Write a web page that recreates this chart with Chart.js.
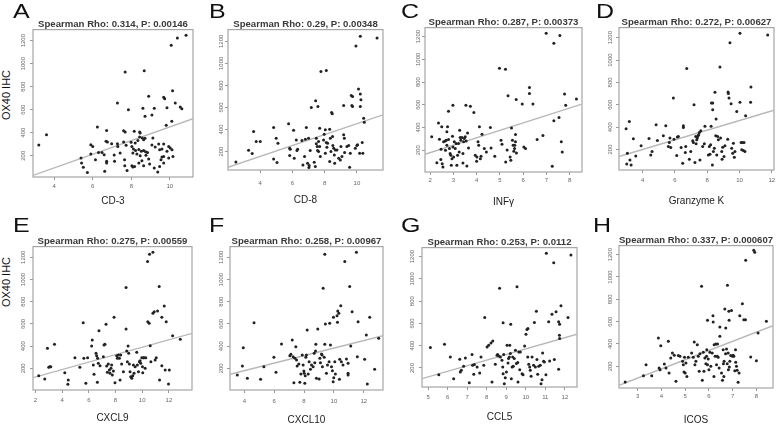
<!DOCTYPE html>
<html>
<head>
<meta charset="utf-8">
<script src="https://cdn.jsdelivr.net/npm/chart.js@4.4.1/dist/chart.umd.min.js"></script>
<style>
  body { margin: 0; background: #fff; width: 778px; height: 425px; overflow: hidden; position: relative;
         font-family: "Liberation Sans", Arial, Helvetica, sans-serif; }
  canvas { position: absolute; }
  .letter { position: absolute; font-size: 20px; line-height: 20px; color: #111;
            transform: scaleX(1.25); transform-origin: left top; }
  .ylab { position: absolute; font-size: 11px; line-height: 11px; color: #111; white-space: nowrap;
          transform: translate(-50%, -50%) rotate(-90deg); }
</style>
</head>
<body>
<div class="ylab" style="left:6px; top:95px;">OX40 IHC</div>
<div class="ylab" style="left:6px; top:282px;">OX40 IHC</div>
<script>
// values: [expression, OX40 IHC]
const cd3 = [[3.2,293],[3.6,383],[10.84,1246],[10.39,1223],[10.07,1159],[7.68,928],[8.67,939],[8.9,716],[9.68,707],[9.73,696],[10.14,765],[10.28,658],[10.54,623],[10.62,609],[7.28,658],[7.85,600],[8.6,612],[9.19,612],[9.07,554],[8.71,542],[9.85,617],[10.1,499],[9.81,464],[6.24,449],[6.72,420],[7.6,417],[7.68,406],[8.15,412],[8.43,406],[8.46,397],[9.12,354],[5.9,296],[6.0,281],[6.3,229],[6.48,229],[6.69,325],[6.76,319],[6.98,304],[7.28,304],[7.6,319],[7.73,290],[7.99,316],[8.03,281],[8.2,310],[8.34,333],[8.43,362],[8.57,354],[8.64,339],[8.71,351],[8.11,258],[8.22,246],[8.39,255],[8.52,238],[8.64,246],[8.74,235],[8.84,229],[8.08,223],[8.29,214],[8.46,200],[8.76,203],[9.07,293],[9.24,275],[9.42,301],[9.68,301],[9.47,252],[9.59,258],[9.94,281],[10.02,267],[10.11,252],[9.85,238],[9.68,194],[9.59,188],[9.54,165],[10.16,194],[9.94,180],[5.39,180],[5.42,136],[5.51,99],[5.72,55],[5.9,214],[6.14,165],[6.59,209],[6.72,151],[6.72,136],[6.62,64],[7.11,206],[7.13,151],[7.65,165],[7.66,113],[7.78,72],[8.03,113],[8.08,101],[8.17,107],[8.39,136],[8.55,157],[8.64,113],[8.9,171],[8.95,128],[9.19,93],[9.37,58],[9.47,107],[9.68,136],[7.42,223],[7.3,281]];
const cd8 = [[2.49,106],[3.28,212],[3.5,182],[3.59,382],[3.75,291],[4.0,291],[4.83,418],[4.83,133],[4.99,321],[5.1,276],[5.04,100],[5.76,452],[5.83,230],[5.86,221],[5.83,164],[6.07,394],[6.11,139],[6.28,209],[6.32,221],[6.24,306],[6.59,300],[6.75,155],[6.8,312],[6.86,418],[7.0,321],[6.94,94],[7.04,73],[7.02,55],[6.65,79],[7.1,209],[7.17,600],[7.35,103],[7.44,661],[7.58,609],[7.42,64],[7.48,321],[7.48,270],[7.54,245],[7.62,291],[7.56,209],[7.62,200],[7.69,412],[7.77,927],[8.1,936],[7.69,245],[7.73,155],[7.93,306],[7.97,358],[8.04,397],[8.04,185],[8.1,282],[8.14,239],[8.18,276],[8.31,403],[8.31,109],[8.35,321],[8.39,200],[8.43,555],[8.47,542],[8.49,336],[8.51,255],[8.56,230],[8.6,170],[8.62,94],[8.66,215],[8.76,215],[8.87,139],[8.97,124],[9.01,245],[9.07,155],[9.18,618],[9.18,352],[9.22,321],[9.24,191],[9.38,245],[9.49,255],[9.59,185],[9.55,58],[9.69,618],[9.73,609],[9.65,709],[9.73,700],[9.94,1158],[10.21,1245],[11.25,1230],[10.1,767],[10.21,721],[10.25,670],[10.21,609],[10.0,255],[10.04,261],[10.17,185],[10.33,282],[10.37,185],[10.42,503],[10.46,467],[9.9,230]];
const infg = [[2.07,318],[2.29,91],[2.36,441],[2.4,297],[2.46,118],[2.47,209],[2.5,406],[2.52,82],[2.55,53],[2.58,274],[2.65,282],[2.69,288],[2.66,200],[2.72,362],[2.72,244],[2.75,406],[2.79,294],[2.79,544],[2.83,215],[2.86,171],[2.89,156],[2.91,68],[2.94,126],[2.96,324],[2.98,597],[2.98,229],[3.01,141],[3.04,274],[3.08,215],[3.12,259],[3.15,68],[3.18,156],[3.22,259],[3.25,185],[3.27,376],[3.29,312],[3.32,288],[3.37,312],[3.41,88],[3.41,171],[3.44,274],[3.47,303],[3.51,318],[3.55,282],[3.58,62],[3.54,597],[3.73,588],[3.61,353],[3.65,221],[3.88,532],[3.94,156],[4.0,103],[4.01,141],[4.06,274],[4.09,244],[4.12,406],[4.16,126],[4.19,147],[4.23,341],[4.33,215],[4.42,185],[4.59,400],[4.62,221],[4.78,147],[4.98,921],[5.24,912],[5.05,288],[5.09,253],[5.25,97],[5.31,203],[5.35,679],[5.44,141],[5.47,112],[5.5,397],[5.54,288],[5.57,244],[5.6,191],[5.63,215],[5.64,244],[5.67,338],[5.71,176],[5.7,647],[5.96,606],[6.03,229],[6.1,215],[6.27,753],[6.27,700],[6.42,606],[6.6,294],[6.85,329],[6.99,1229],[7.32,1141],[7.58,1209],[7.25,59],[7.32,459],[7.54,488],[7.64,274],[7.68,185],[7.78,694],[7.83,597],[8.29,650],[5.67,274]];
const gzmk = [[2.97,386],[3.01,71],[3.05,167],[3.17,451],[3.21,107],[3.28,62],[3.42,296],[3.57,143],[3.9,233],[4.39,299],[4.5,152],[4.58,182],[4.83,422],[4.91,281],[5.28,323],[5.43,413],[5.59,227],[5.65,263],[5.69,302],[5.74,218],[5.9,661],[5.94,293],[6.11,146],[6.15,311],[6.21,317],[6.38,218],[6.48,77],[6.52,413],[6.52,398],[6.64,173],[6.67,227],[6.73,925],[6.89,113],[6.98,182],[7.1,278],[7.14,263],[7.18,601],[7.24,83],[7.29,317],[7.31,251],[7.35,287],[7.39,302],[7.43,323],[7.47,332],[7.51,353],[7.55,107],[7.6,368],[7.72,227],[7.82,251],[7.86,407],[8.07,152],[8.13,227],[8.17,158],[8.21,242],[8.24,407],[8.26,616],[8.34,616],[8.34,556],[8.32,62],[8.38,182],[8.44,212],[8.48,712],[8.55,472],[8.53,323],[8.59,152],[8.65,317],[8.69,287],[8.79,937],[8.83,302],[8.9,182],[8.92,113],[8.96,221],[9.04,137],[9.1,233],[9.27,293],[9.29,715],[9.31,700],[9.35,661],[9.41,1155],[9.48,610],[9.52,212],[9.58,167],[9.62,257],[9.72,182],[9.83,541],[10.03,1239],[10.03,622],[10.1,263],[10.14,197],[10.18,263],[10.24,191],[10.28,263],[10.34,182],[10.38,502],[10.71,760],[10.69,622],[11.75,1224],[9.68,131]];
const cxcl9 = [[2.25,134],[2.7,104],[2.9,380],[3.0,209],[3.08,215],[3.15,215],[3.43,416],[4.2,161],[4.46,95],[4.43,56],[4.96,296],[5.33,209],[5.58,611],[5.63,290],[5.78,65],[5.91,296],[6.21,401],[6.26,455],[6.34,230],[6.39,146],[6.54,335],[6.59,314],[6.66,290],[6.71,245],[6.64,74],[6.76,539],[6.84,224],[7.09,305],[7.14,410],[7.21,416],[7.29,596],[7.34,221],[7.39,164],[7.46,239],[7.54,185],[7.59,155],[7.66,200],[7.71,230],[7.76,140],[7.84,176],[7.89,659],[7.96,71],[8.09,314],[8.14,290],[8.22,320],[8.29,290],[8.39,320],[8.34,95],[8.46,239],[8.59,170],[8.79,927],[8.79,554],[8.84,356],[8.89,260],[8.94,401],[8.99,335],[9.04,239],[9.09,170],[9.14,125],[9.22,110],[9.29,134],[9.34,230],[9.39,155],[9.47,215],[9.59,344],[9.64,230],[9.72,170],[9.79,260],[9.84,269],[9.89,245],[9.97,296],[10.02,215],[10.04,161],[10.09,296],[10.14,296],[10.22,200],[10.27,296],[10.4,1161],[10.55,1227],[10.8,1245],[10.42,620],[10.52,605],[10.6,404],[10.65,260],[10.8,695],[10.9,710],[10.97,275],[11.05,296],[11.15,716],[11.27,936],[11.3,95],[11.47,224],[11.47,659],[11.65,762],[11.72,185],[11.8,620],[11.97,59],[12.03,185],[12.28,494],[12.85,461]];
const cxcl10 = [[3.53,140],[3.87,221],[3.93,386],[4.2,110],[4.65,611],[5.09,101],[5.31,215],[5.98,299],[6.12,164],[6.49,419],[7.05,314],[7.12,326],[7.21,455],[7.27,305],[7.32,71],[7.39,290],[7.45,395],[7.5,275],[7.54,221],[7.65,239],[7.72,74],[7.79,149],[7.88,320],[7.94,230],[7.99,176],[8.01,155],[8.05,65],[8.08,134],[8.12,299],[8.16,320],[8.21,545],[8.28,149],[8.34,260],[8.43,191],[8.5,230],[8.61,215],[8.68,335],[8.72,251],[8.77,356],[8.79,416],[8.83,110],[8.92,554],[9.01,104],[9.06,290],[9.1,251],[9.17,329],[9.21,320],[9.23,215],[9.28,921],[9.35,299],[9.39,1227],[9.39,416],[9.43,599],[9.5,155],[9.57,230],[9.68,260],[9.72,605],[9.77,410],[9.84,215],[9.9,179],[9.95,80],[9.97,659],[9.99,116],[10.06,260],[10.1,149],[10.21,674],[10.24,614],[10.26,716],[10.33,695],[10.37,101],[10.39,281],[10.46,764],[10.5,260],[10.61,230],[10.73,1161],[10.84,284],[10.95,155],[10.95,140],[10.95,245],[11.06,936],[11.13,401],[11.22,710],[11.51,1245],[11.57,305],[11.62,620],[12.06,281],[12.17,500],[12.24,59],[12.4,659],[12.73,191],[13.0,470]];
const ccl5 = [[5.12,383],[5.55,140],[5.84,413],[6.14,299],[6.31,104],[6.62,278],[6.65,164],[6.7,179],[6.82,215],[6.91,290],[7.11,68],[7.25,320],[7.28,224],[7.34,143],[7.37,230],[7.51,209],[7.64,155],[7.71,299],[7.85,224],[7.9,653],[8.02,389],[8.1,404],[8.22,425],[8.31,443],[8.27,74],[8.44,233],[8.53,314],[8.56,320],[8.61,308],[8.66,915],[8.7,299],[8.78,269],[8.82,209],[8.84,149],[8.84,605],[8.87,320],[8.9,59],[8.95,113],[9.01,164],[9.04,404],[9.09,245],[9.12,284],[9.16,299],[9.18,404],[9.21,329],[9.23,593],[9.26,104],[9.3,209],[9.33,299],[9.36,215],[9.41,284],[9.47,359],[9.52,239],[9.55,930],[9.59,248],[9.6,74],[9.64,344],[9.69,185],[9.72,344],[9.81,149],[9.86,140],[9.94,398],[10.01,503],[10.06,545],[10.11,554],[10.1,299],[10.15,233],[10.2,209],[10.23,179],[10.27,125],[10.32,299],[10.4,224],[10.44,608],[10.49,209],[10.54,710],[10.57,275],[10.61,143],[10.66,215],[10.74,224],[10.78,59],[10.83,95],[10.86,335],[10.91,260],[10.95,254],[11.03,140],[11.05,1230],[11.17,614],[11.22,263],[11.34,683],[11.43,1146],[11.46,275],[11.55,704],[11.68,188],[11.68,614],[11.73,593],[11.72,494],[11.73,464],[11.8,758],[12.16,653],[12.31,1215]];
const icos = [[2.47,60],[3.24,116],[3.35,215],[3.59,116],[3.87,454],[3.9,185],[3.94,170],[3.97,385],[4.12,221],[4.19,185],[4.29,424],[4.32,140],[4.39,275],[4.46,319],[4.54,299],[4.61,66],[4.71,296],[4.78,290],[4.89,245],[4.92,215],[4.95,149],[4.97,281],[5.0,140],[5.03,230],[5.07,110],[5.13,281],[5.27,319],[5.34,281],[5.38,418],[5.41,215],[5.45,245],[5.51,394],[5.55,290],[5.59,155],[5.62,313],[5.69,916],[5.72,75],[5.76,325],[5.79,155],[5.83,275],[5.87,224],[5.9,290],[5.91,349],[5.94,612],[5.94,215],[5.97,266],[6.0,170],[6.04,325],[6.08,200],[6.14,319],[6.17,654],[6.18,597],[6.21,110],[6.22,394],[6.26,290],[6.29,400],[6.32,215],[6.35,290],[6.36,400],[6.39,281],[6.43,185],[6.46,552],[6.46,469],[6.53,140],[6.57,75],[6.6,349],[6.61,224],[6.63,110],[6.64,245],[6.67,713],[6.7,313],[6.71,543],[6.74,355],[6.77,224],[6.78,925],[6.81,319],[6.82,170],[6.84,693],[6.85,612],[6.86,194],[6.88,245],[6.92,296],[6.95,701],[6.99,290],[7.02,299],[7.05,290],[7.09,161],[7.12,349],[7.13,236],[7.16,200],[7.19,164],[7.23,57],[7.27,140],[7.3,654],[7.41,761],[7.47,618],[7.54,618],[7.55,1149],[7.76,284],[7.89,1239],[7.93,1221],[8.0,251],[8.07,499],[8.42,603]];

// fitted line end points
const fitCd3 = [[2.9,29],[11.2,522]];
const fitCd8 = [[2.0,58],[11.62,533]];
const fitInfg = [[1.78,165],[8.53,606]];
const fitGzmk = [[2.53,137],[12.14,552]];
const fitCxcl9 = [[1.82,116],[13.73,515]];
const fitCxcl10 = [[3.04,146],[13.29,494]];
const fitCcl5 = [[4.69,104],[12.62,503]];
const fitIcos = [[2.21,30],[8.7,564]];

const letters = ["A", "B", "C", "D", "E", "F", "G", "H"];
const genes = ["CD-3", "CD-8", "INFγ", "Granzyme K", "CXCL9", "CXCL10", "CCL5", "ICOS"];
const titles = [
  "Spearman Rho: 0.314, P: 0.00146", "Spearman Rho: 0.29, P: 0.00348",
  "Spearman Rho: 0.287, P: 0.00373", "Spearman Rho: 0.272, P: 0.00627",
  "Spearman Rho: 0.275, P: 0.00559", "Spearman Rho: 0.258, P: 0.00967",
  "Spearman Rho: 0.253, P: 0.0112", "Spearman Rho: 0.337, P: 0.000607"
];
const yTicks = [200, 400, 600, 800, 1000, 1200];
const xTicks = [
  [4, 6, 8, 10], [4, 6, 8, 10], [2, 3, 4, 5, 6, 7, 8], [4, 6, 8, 10, 12],
  [2, 4, 6, 8, 10, 12], [4, 6, 8, 10, 12], [5, 6, 7, 8, 9, 10, 11, 12], [3, 4, 5, 6, 7, 8]
];

const series = [cd3, cd8, infg, gzmk, cxcl9, cxcl10, ccl5, icos];
const fits = [fitCd3, fitCd8, fitInfg, fitGzmk, fitCxcl9, fitCxcl10, fitCcl5, fitIcos];

// panel boxes (page px) and axis ranges
const panels = [
  { l: 33, t: 30, r: 193, b: 177, x0: 2.9, x1: 11.2, y0: 15, y1: 1296, tickY: 186, labY: 201, yOff: 9.7, letX: 13, letY: 1 },
  { l: 228, t: 30, r: 383, b: 170, x0: 2.0, x1: 11.62, y0: 33, y1: 1306, tickY: 183, labY: 200, yOff: 6.3, letX: 209, letY: 1 },
  { l: 425, t: 28, r: 582, b: 172, x0: 1.78, x1: 8.53, y0: 9, y1: 1279, tickY: 180, labY: 202, yOff: 7, letX: 401, letY: 1 },
  { l: 619, t: 28, r: 774, b: 170, x0: 2.53, x1: 12.14, y0: 17, y1: 1290, tickY: 180, labY: 201, yOff: 8.3, letX: 596, letY: 1 },
  { l: 33, t: 247, r: 192, b: 390, x0: 1.82, x1: 13.73, y0: 5, y1: 1296, tickY: 400, labY: 418, yOff: 10, letX: 13, letY: 215 },
  { l: 230, t: 247, r: 383, b: 390, x0: 3.04, x1: 13.29, y0: 5, y1: 1296, tickY: 401, labY: 420, yOff: 8.3, letX: 209, letY: 215 },
  { l: 422, t: 248, r: 577, b: 387, x0: 4.69, x1: 12.62, y0: 29, y1: 1281, tickY: 397, labY: 417, yOff: 10, letX: 401, letY: 215 },
  { l: 619, t: 246, r: 773, b: 388, x0: 2.21, x1: 8.7, y0: 6, y1: 1281, tickY: 396, labY: 420, yOff: 8.3, letX: 593, letY: 215 }
];

Chart.defaults.font.family = '"Liberation Sans", Arial, Helvetica, sans-serif';

// grey box round the plotting region, like R's box()
const frame = {
  id: "frame",
  beforeDatasetsDraw(chart) {
    const { ctx, chartArea: a } = chart;
    ctx.save();
    ctx.strokeStyle = "#a6a6a6";
    ctx.lineWidth = 1.2;
    ctx.strokeRect(a.left, a.top, a.right - a.left, a.bottom - a.top);
    ctx.restore();
  }
};

const toXY = arr => arr.map(([x, y]) => ({ x, y }));

panels.forEach((p, i) => {
  const yw = 24, pr = 8, th = 12;
  const xh = p.labY - p.b + 5;
  const canvas = document.createElement("canvas");
  canvas.width = p.r - p.l + yw + pr;
  canvas.height = th + (p.b - p.t) + xh;
  canvas.style.left = (p.l - yw) + "px";
  canvas.style.top = (p.t - th) + "px";
  document.body.appendChild(canvas);

  const letter = document.createElement("div");
  letter.className = "letter";
  letter.textContent = letters[i];
  letter.style.left = p.letX + "px";
  letter.style.top = p.letY + "px";
  document.body.appendChild(letter);

  new Chart(canvas, {
    type: "scatter",
    data: {
      datasets: [
        {
          data: toXY(series[i]),
          pointRadius: 1.5,
          pointBackgroundColor: "#222",
          pointBorderWidth: 0
        },
        {
          data: toXY(fits[i]),
          showLine: true,
          pointRadius: 0,
          borderColor: "#b8b8b8",
          borderWidth: 1.4
        }
      ]
    },
    options: {
      responsive: false,
      animation: false,
      events: [],
      layout: { padding: { right: pr } },
      plugins: {
        legend: { display: false },
        tooltip: { enabled: false },
        title: {
          display: true,
          text: titles[i],
          fullSize: false,
          color: "#3a3a3a",
          font: { size: 9.6, weight: "bold", lineHeight: 1 },
          padding: { top: 2, bottom: 0 }
        }
      },
      scales: {
        x: {
          type: "linear",
          min: p.x0,
          max: p.x1,
          afterBuildTicks: s => { s.ticks = xTicks[i].map(v => ({ value: v })); },
          afterFit: s => { s.height = xh; },
          ticks: {
            font: { size: 6 },
            color: "#666",
            padding: p.tickY - p.b - 6.6,
            maxRotation: 0,
            autoSkip: false,
            callback: v => String(v)
          },
          grid: { drawOnChartArea: false, tickLength: 3, tickColor: "#999" },
          border: { display: false },
          title: {
            display: true,
            text: genes[i],
            color: "#222",
            font: { size: 10, lineHeight: 1 },
            padding: 0
          }
        },
        y: {
          min: p.y0,
          max: p.y1,
          afterBuildTicks: s => { s.ticks = yTicks.map(v => ({ value: v })); },
          afterFit: s => { s.width = yw; },
          ticks: {
            font: { size: 6 },
            color: "#666",
            minRotation: 90,
            maxRotation: 90,
            crossAlign: "center",
            padding: p.yOff - 9.7,
            autoSkip: false,
            callback: v => String(v)
          },
          grid: { drawOnChartArea: false, tickLength: 3, tickColor: "#999" },
          border: { display: false }
        }
      }
    },
    plugins: [frame]
  });
});
</script>
</body>
</html>
